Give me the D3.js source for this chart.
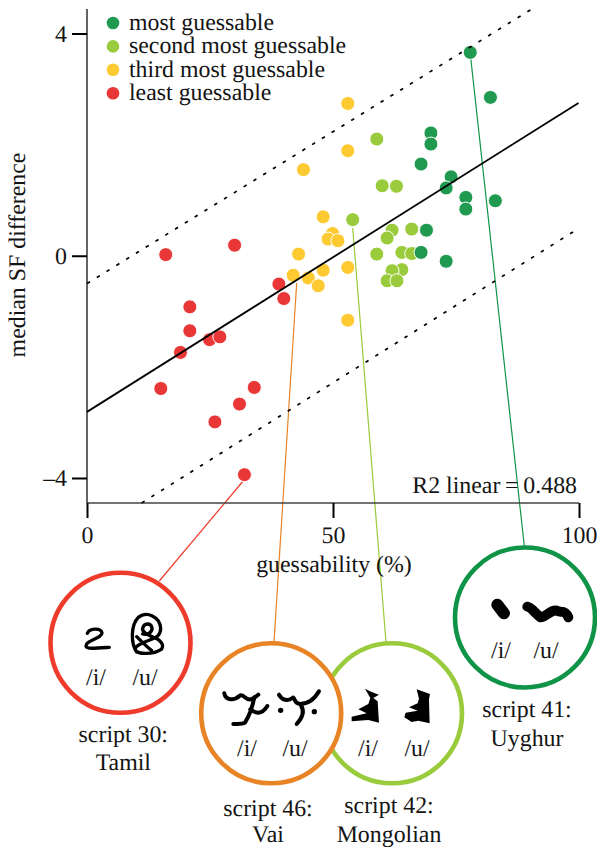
<!DOCTYPE html>
<html><head><meta charset="utf-8">
<script src="https://cdnjs.cloudflare.com/ajax/libs/d3/7.8.5/d3.min.js"></script>
<style>html,body{margin:0;padding:0;background:#fff}svg{display:block}text{font-family:"Liberation Serif",serif;font-size:23.85px;fill:#141414;text-rendering:geometricPrecision}</style>
</head><body><svg id="c" width="597" height="847"></svg>
<script>
const groupNames=["most guessable","second most guessable","third most guessable","least guessable"];
const groupColors=["#1f9a50","#9acb3c","#fdca31","#e93636"];
const mostX=[77.9,82,69.9,69.9,67.9,74,73,77,77,83,69,67.9,73];
const mostY=[3.66,2.85,2.21,2.01,1.65,1.42,1.22,1.05,.84,.99,.46,.06,-.1];
const secondX=[58.9,60,62.9,54,66,62,61,58.9,64,66,64,62,61,63];
const secondY=[2.1,1.26,1.25,.65,.48,.46,.32,.03,.06,.04,-.25,-.27,-.45,-.45];
const thirdX=[53,53,44,48,49.9,49,51,43,53,48,41.9,45,47,53];
const thirdY=[2.74,1.89,1.55,.7,.4,.3,.27,.03,-.21,-.26,-.35,-.4,-.54,-1.16];
const leastX=[16,30,39,40,20.9,20.9,24.9,27,19,15,34,31,26,32];
const leastY=[.02,.19,-.51,-.77,-.92,-1.35,-1.51,-1.46,-1.74,-2.39,-2.37,-2.67,-2.99,-3.94];
const seriesX=[mostX,secondX,thirdX,leastX], seriesY=[mostY,secondY,thirdY,leastY];
const xTicks=[0,50,100], yTicks=[4,0,-4];
const fitLine=[[0,-2.81],[99.9,2.75]];
const upperBand=[[0,-.5],[90.4,4.44]];
const lowerBand=[[11.1,-4.45],[98.8,.43]];

const svg=d3.select("#c");
const x=d3.scaleLinear().domain([0,100]).range([87,579]);
const y=d3.scaleLinear().domain([4,-4]).range([33.5,478]);
const yBottom=503,yTop=9;
const line=d3.line().x(d=>x(d[0])).y(d=>y(d[1]));

const connectors=[
 {c:"#0f9447",a:[470.3,54],b:[524.3,546]},
 {c:"#9acb3c",a:[352.7,228],b:[386,642]},
 {c:"#e88425",a:[296.7,283],b:[274,642]},
 {c:"#ee3b2b",a:[244,480],b:[159.3,581]}];
svg.append("g").selectAll("line").data(connectors).join("line")
 .attr("x1",d=>d.a[0]).attr("y1",d=>d.a[1]).attr("x2",d=>d.b[0]).attr("y2",d=>d.b[1])
 .attr("stroke",d=>d.c).attr("stroke-width",1.2);

const ax=svg.append("g");
const yAxis=svg.append("g").attr("transform","translate(87,0)")
 .call(d3.axisLeft(y).tickValues(yTicks).tickSize(15).tickPadding(5).tickFormat(d=>String(d).replace("-","–")));
yAxis.select(".domain").remove();
yAxis.selectAll("line").attr("stroke","#000").attr("stroke-width",2);
yAxis.selectAll("text").attr("dy","0.32em");
const xAxis=svg.append("g").attr("transform",`translate(0,${yBottom})`)
 .call(d3.axisBottom(x).tickValues(xTicks).tickSize(15).tickPadding(8));
xAxis.select(".domain").remove();
xAxis.selectAll("line").attr("stroke","#000").attr("stroke-width",2);
xAxis.selectAll("text").attr("dy","0.71em");
ax.append("line").attr("x1",87).attr("x2",87).attr("y1",yTop).attr("y2",yBottom).attr("stroke","#111").attr("stroke-width",1.3);
ax.append("line").attr("x1",87).attr("x2",579).attr("y1",yBottom).attr("y2",yBottom).attr("stroke","#444").attr("stroke-width",1.5);

[3,2,1,0].forEach(i=>{
 svg.append("g").selectAll("circle").data(seriesX[i].map((v,j)=>[v,seriesY[i][j]])).join("circle")
  .attr("cx",d=>x(d[0])).attr("cy",d=>y(d[1])).attr("r",7)
  .attr("fill",groupColors[i]).attr("stroke","#fff").attr("stroke-width",1);
});

svg.append("path").attr("d",line(fitLine)).attr("fill","none").attr("stroke","#000").attr("stroke-width",1.8);
[upperBand,lowerBand].forEach(b=>svg.append("path").attr("d",line(b)).attr("fill","none")
 .attr("stroke","#000").attr("stroke-width",1.7).attr("stroke-dasharray","3.5 8"));

const lg=svg.append("g").selectAll("g").data(groupNames).join("g")
 .attr("transform",(d,i)=>`translate(113,${23+i*23.4})`);
lg.append("circle").attr("r",6.3).attr("fill",(d,i)=>groupColors[i]);
lg.append("text").attr("x",16).attr("y",7).text(d=>d);

const T=(px,py,s,a="middle")=>svg.append("text").attr("x",px).attr("y",py).attr("text-anchor",a).text(s);
T(577,493,"R2 linear\u2009=\u20090.488","end");
T(334,572,"guessability (%)");
svg.append("text").attr("transform","translate(25,255) rotate(-90)").attr("text-anchor","middle").text("median SF difference");

const rings=[
 {c:"#9acb3c",cx:392,cy:713.3},
 {c:"#e88425",cx:271.2,cy:713.3},
 {c:"#ee3b2b",cx:120.5,cy:642.8},
 {c:"#0f9447",cx:525,cy:617.5}];
svg.append("g").selectAll("circle").data(rings).join("circle")
 .attr("cx",d=>d.cx).attr("cy",d=>d.cy).attr("r",70).attr("fill","#fff").attr("stroke",d=>d.c).attr("stroke-width",4.6);

const defs=svg.append("defs");
defs.append("filter").attr("id","b").attr("filterUnits","userSpaceOnUse")
 .attr("x",0).attr("y",0).attr("width",1000).attr("height",1000)
 .append("feGaussianBlur").attr("stdDeviation",1.8);
const glyph=(ox,oy,strokes,fills,w)=>{
 const g=svg.append("g").attr("transform",`translate(${ox},${oy}) scale(0.3333)`).attr("filter","url(#b)");
 strokes.forEach(d=>g.append("path").attr("d",d).attr("fill","none").attr("stroke","#000").attr("stroke-width",w).attr("stroke-linecap","round").attr("stroke-linejoin","round"));
 fills.forEach(d=>g.append("path").attr("d",d).attr("fill","#000"));
};
glyph(40,560,[
 "M142 220C148 204 182 203 186 218C186 234 150 238 140 252C132 268 150 266 208 262",
 "M290 276C272 250 272 195 295 172C320 152 360 170 362 205C362 225 350 232 335 238C310 248 282 258 286 270C295 284 340 284 364 268C374 256 362 238 340 232C318 222 305 215 308 205C312 188 332 188 336 203C338 218 320 226 308 222",
 "M290 230C305 245 320 260 335 272"],[],10);
glyph(195,630,[
 "M88 190C92 212 118 212 133 198C145 188 150 212 168 208C178 204 184 200 190 194",
 "M178 202C172 232 160 262 150 278C140 284 125 282 115 282",
 "M166 238C180 250 200 256 217 228",
 "M252 194C262 212 280 214 292 204C300 198 296 222 315 222C340 222 360 205 372 184",
 "M318 226C332 248 318 268 305 282"],[],12);
const sg=svg.append("g").attr("transform","translate(195,630) scale(0.3333)").attr("filter","url(#b)");
[[257,241],[358,245]].forEach(p=>sg.append("circle").attr("cx",p[0]).attr("cy",p[1]).attr("r",8));
glyph(195,630,[],[
 "M510 176L530 186L552 194L535 204L548 214L552 278L520 270L470 274L470 260L515 250L490 238L520 222L526 204Z",
 "M665 178L705 192L702 208L704 280L670 272L650 276L628 262L632 248L668 242L642 232L668 220L672 206Z"],1);
glyph(440,530,[
 "M172 224L192 250"],[],36);
glyph(440,530,[
 "M262 230C275 232 285 250 302 262C318 262 332 238 350 242C360 250 375 236 385 262"],[],30);

const labels=[
 {i:96,u:145,y:685},{i:247,u:295,y:756},{i:368,u:417,y:756},{i:501,u:546,y:657.7}];
labels.forEach(l=>{T(l.i,l.y,"/i/");T(l.u,l.y,"/u/");});
const captions=[
 {x:123.3,y1:741.7,y2:770,a:"script 30:",b:"Tamil"},
 {x:268,y1:815.7,y2:841.5,a:"script 46:",b:"Vai"},
 {x:389,y1:813,y2:841.5,a:"script 42:",b:"Mongolian"},
 {x:527,y1:717,y2:746,a:"script 41:",b:"Uyghur"}];
captions.forEach(c=>{T(c.x,c.y1,c.a);T(c.x,c.y2,c.b);});
</script></body></html>
